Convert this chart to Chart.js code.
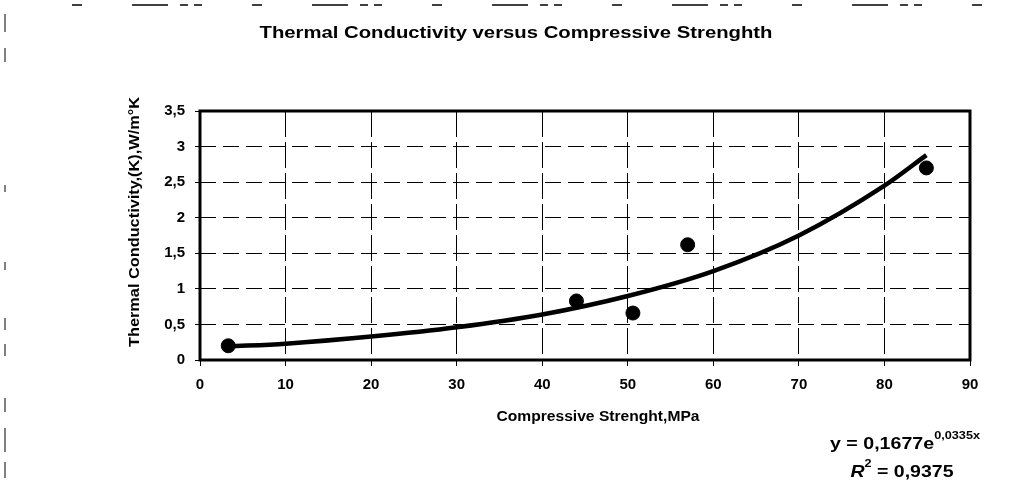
<!DOCTYPE html>
<html>
<head>
<meta charset="utf-8">
<script src="https://cdn.jsdelivr.net/npm/chart.js@4"></script>
<style>
  html, body { margin: 0; padding: 0; background: #fff; }
  canvas { display: block; }
</style>
</head>
<body>
<canvas id="chart" width="1018" height="486"></canvas>
<script>
// measured points
const strength = [3.3, 44.0, 50.6, 57.0, 84.9];
const conductivity = [0.2, 0.83, 0.66, 1.62, 2.7];

// exponential trendline
const trendX = [3.3, 10, 20, 30, 40, 50, 60, 70, 80, 84.9];
const trendY = [0.19, 0.23, 0.33, 0.46, 0.64, 0.9, 1.25, 1.75, 2.45, 2.88];

const xTicks = [0, 10, 20, 30, 40, 50, 60, 70, 80, 90];
const yTicks = [0, 0.5, 1, 1.5, 2, 2.5, 3, 3.5];

const FONT = "'Liberation Sans', Arial, sans-serif";

let points = [];
for (let i in strength) {
    points.push({x: strength[i], y: conductivity[i]});
}
let trend = [];
for (let i in trendX) {
    trend.push({x: trendX[i], y: trendY[i]});
}

function comma(v) {
    return String(v).replace('.', ',');
}

// draws a row of text pieces centred at cx,cy, stretched to the given width
// pieces: [text, font, dy]
function drawRow(ctx, pieces, cx, cy, width) {
    let total = 0;
    for (let p of pieces) {
        ctx.font = p[1];
        total += ctx.measureText(p[0]).width;
    }
    ctx.save();
    ctx.translate(cx, cy);
    ctx.scale(width / total, 1);
    let x = -total / 2;
    for (let p of pieces) {
        ctx.font = p[1];
        ctx.fillText(p[0], x, p[2] || 0);
        x += ctx.measureText(p[0]).width;
    }
    ctx.restore();
}

// frame, texts and the scan marks
const decor = {
    id: 'decor',
    beforeDatasetsDraw(chart) {
        const ctx = chart.ctx;
        const a = chart.chartArea;
        ctx.save();
        ctx.strokeStyle = '#000';
        ctx.lineWidth = 3;
        ctx.strokeRect(a.left, a.top, a.right - a.left, a.bottom - a.top);
        ctx.restore();
    },
    afterDraw(chart) {
        const ctx = chart.ctx;
        ctx.save();
        ctx.fillStyle = '#000';
        ctx.textAlign = 'left';
        ctx.textBaseline = 'middle';

        drawRow(ctx, [['Thermal Conductivity versus Compressive Strenghth', "bold 17px " + FONT]], 516, 33, 513);
        drawRow(ctx, [['Compressive Strenght,MPa', "bold 14px " + FONT]], 598, 417, 203);

        ctx.save();
        ctx.translate(135, 222);
        ctx.rotate(-Math.PI / 2);
        drawRow(ctx, [['Thermal Conductivity,(K),W/m\u00B0K', "bold 14px " + FONT]], 0, 0, 250);
        ctx.restore();

        // equation
        drawRow(ctx, [
            ['y = 0,1677e', "bold 17px " + FONT],
            ['0,0335x', "bold 11px " + FONT, -8]
        ], 905, 444, 150);
        drawRow(ctx, [
            ['R', "italic bold 17px " + FONT],
            ['2', "bold 11px " + FONT, -8],
            [' = 0,9375', "bold 17px " + FONT]
        ], 902, 472, 103);

        // scan marks at the top and left edge
        ctx.strokeStyle = '#000';
        ctx.lineWidth = 1.5;
        ctx.setLineDash([10, 50, 36, 12, 8, 6, 8, 50]);
        ctx.beginPath();
        ctx.moveTo(72, 5);
        ctx.lineTo(1018, 5);
        ctx.stroke();
        ctx.setLineDash([]);
        ctx.lineWidth = 1;
        ctx.beginPath();
        ctx.moveTo(5, 14); ctx.lineTo(5, 32);
        ctx.moveTo(5, 48); ctx.lineTo(5, 62);
        ctx.moveTo(5, 185); ctx.lineTo(5, 192);
        ctx.moveTo(5, 262); ctx.lineTo(5, 270);
        ctx.moveTo(5, 318); ctx.lineTo(5, 330);
        ctx.moveTo(5, 344); ctx.lineTo(5, 356);
        ctx.moveTo(5, 398); ctx.lineTo(5, 412);
        ctx.moveTo(5, 428); ctx.lineTo(5, 452);
        ctx.moveTo(5, 462); ctx.lineTo(5, 478);
        ctx.stroke();
        ctx.restore();
    }
};

new Chart(document.getElementById('chart').getContext('2d'), {
    type: 'scatter',
    data: {
        datasets: [{
            data: points,
            backgroundColor: '#000',
            borderColor: '#000',
            pointRadius: 7,
            pointHoverRadius: 7
        }, {
            type: 'line',
            data: trend,
            borderColor: '#000',
            borderWidth: 4.5,
            pointRadius: 0,
            fill: false,
            cubicInterpolationMode: 'monotone'
        }]
    },
    options: {
        responsive: false,
        animation: false,
        events: [],
        layout: {padding: {left: 120, right: 48, top: 111, bottom: 26}},
        plugins: {
            legend: {display: false},
            title: {display: false},
            tooltip: {enabled: false}
        },
        scales: {
            x: {
                type: 'linear',
                min: 0,
                max: 90,
                afterBuildTicks(s) { s.ticks = xTicks.map(v => ({value: v})); },
                afterFit(s) { s.height = 100; },
                ticks: {
                    color: '#000',
                    padding: 10,
                    font: {family: FONT, size: 15, weight: 'bold'}
                },
                grid: {
                    color: '#000',
                    lineWidth: 1,
                    tickLength: 6,
                    tickColor: '#000',
                    tickBorderDash: []
                },
                border: {display: false, dash: [26, 5]}
            },
            y: {
                min: 0,
                max: 3.5,
                afterBuildTicks(s) { s.ticks = yTicks.map(v => ({value: v})); },
                afterFit(s) { s.width = 80; },
                ticks: {
                    color: '#000',
                    padding: 10,
                    callback: v => comma(v),
                    font: {family: FONT, size: 15, weight: 'bold'}
                },
                grid: {
                    color: '#000',
                    lineWidth: 1,
                    tickLength: 5,
                    tickColor: '#000',
                    tickBorderDash: []
                },
                border: {display: false, dash: [16, 7]}
            }
        }
    },
    plugins: [decor]
});
</script>
</body>
</html>
